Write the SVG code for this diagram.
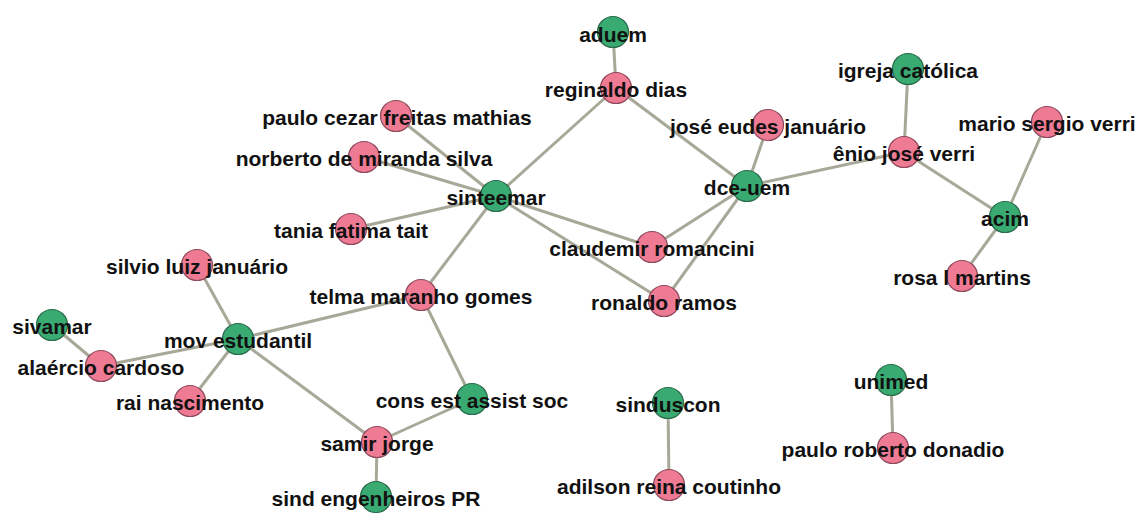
<svg xmlns="http://www.w3.org/2000/svg" width="1141" height="513" viewBox="0 0 1141 513">
<style>
.e{stroke:#a8a898;stroke-width:3;fill:none}
.p{fill:#ee7a93;stroke:#8e4a5c;stroke-width:1.2}
.g{fill:#3aaa73;stroke:#2a6b4a;stroke-width:1.2}
text{font-family:"Liberation Sans",Arial,sans-serif;font-weight:bold;font-size:21px;fill:#111;text-anchor:middle}
</style>
<rect width="1141" height="513" fill="#fff"/>
<g id="connectors">
<line class="e" x1="496" y1="196" x2="396" y2="116"/>
<line class="e" x1="496" y1="196" x2="364" y2="157"/>
<line class="e" x1="496" y1="196" x2="351" y2="229"/>
<line class="e" x1="496" y1="196" x2="616" y2="88"/>
<line class="e" x1="496" y1="196" x2="421" y2="295"/>
<line class="e" x1="496" y1="196" x2="652" y2="247"/>
<line class="e" x1="496" y1="196" x2="664" y2="301"/>
<line class="e" x1="747" y1="186" x2="652" y2="247"/>
<line class="e" x1="747" y1="186" x2="664" y2="301"/>
<line class="e" x1="747" y1="186" x2="616" y2="88"/>
<line class="e" x1="747" y1="186" x2="768" y2="125"/>
<line class="e" x1="747" y1="186" x2="904" y2="152"/>
<line class="e" x1="616" y1="88" x2="613" y2="32"/>
<line class="e" x1="904" y1="152" x2="908" y2="69"/>
<line class="e" x1="904" y1="152" x2="1005" y2="217"/>
<line class="e" x1="1005" y1="217" x2="1047" y2="122"/>
<line class="e" x1="1005" y1="217" x2="962" y2="276"/>
<line class="e" x1="421" y1="295" x2="238" y2="339"/>
<line class="e" x1="421" y1="295" x2="472" y2="399"/>
<line class="e" x1="238" y1="339" x2="197" y2="265"/>
<line class="e" x1="238" y1="339" x2="101" y2="366"/>
<line class="e" x1="238" y1="339" x2="190" y2="401"/>
<line class="e" x1="238" y1="339" x2="377" y2="442"/>
<line class="e" x1="101" y1="366" x2="52" y2="325"/>
<line class="e" x1="377" y1="442" x2="472" y2="399"/>
<line class="e" x1="377" y1="442" x2="376" y2="497"/>
<line class="e" x1="668" y1="403" x2="669" y2="485"/>
<line class="e" x1="891" y1="380" x2="893" y2="448"/>
</g>
<g id="n-aduem"><circle class="g" cx="613" cy="32" r="15.5"/><text x="613" y="42">aduem</text></g>
<g id="n-reginaldo"><circle class="p" cx="616" cy="88" r="15.5"/><text x="616" y="97">reginaldo dias</text></g>
<g id="n-paulocezar"><circle class="p" cx="396" cy="116" r="15.5"/><text x="397" y="125">paulo cezar freitas mathias</text></g>
<g id="n-norberto"><circle class="p" cx="364" cy="157" r="15.5"/><text x="364" y="166">norberto de miranda silva</text></g>
<g id="n-sinteemar"><circle class="g" cx="496" cy="196" r="15.5"/><text x="496" y="205">sinteemar</text></g>
<g id="n-tania"><circle class="p" cx="351" cy="229" r="15.5"/><text x="351" y="238">tania fatima tait</text></g>
<g id="n-joseeudes"><circle class="p" cx="768" cy="125" r="15.5"/><text x="768" y="134">josé eudes januário</text></g>
<g id="n-dceuem"><circle class="g" cx="747" cy="186" r="15.5"/><text x="747" y="195">dce-uem</text></g>
<g id="n-claudemir"><circle class="p" cx="652" cy="247" r="15.5"/><text x="652" y="256">claudemir romancini</text></g>
<g id="n-ronaldo"><circle class="p" cx="664" cy="301" r="15.5"/><text x="664" y="310">ronaldo ramos</text></g>
<g id="n-igreja"><circle class="g" cx="908" cy="69" r="15.5"/><text x="908" y="78">igreja católica</text></g>
<g id="n-enio"><circle class="p" cx="904" cy="152" r="15.5"/><text x="904" y="161">ênio josé verri</text></g>
<g id="n-mario"><circle class="p" cx="1047" cy="122" r="15.5"/><text x="1047" y="131">mario sergio verri</text></g>
<g id="n-acim"><circle class="g" cx="1005" cy="217" r="15.5"/><text x="1005" y="226">acim</text></g>
<g id="n-rosa"><circle class="p" cx="962" cy="276" r="15.5"/><text x="962" y="285">rosa l martins</text></g>
<g id="n-silvio"><circle class="p" cx="197" cy="265" r="15.5"/><text x="197" y="274">silvio luiz januário</text></g>
<g id="n-telma"><circle class="p" cx="421" cy="295" r="15.5"/><text x="421" y="304">telma maranho gomes</text></g>
<g id="n-sivamar"><circle class="g" cx="52" cy="325" r="15.5"/><text x="52" y="334">sivamar</text></g>
<g id="n-mov"><circle class="g" cx="238" cy="339" r="15.5"/><text x="238" y="348">mov estudantil</text></g>
<g id="n-alaercio"><circle class="p" cx="101" cy="366" r="15.5"/><text x="101" y="375">alaércio cardoso</text></g>
<g id="n-rai"><circle class="p" cx="190" cy="401" r="15.5"/><text x="190" y="410">rai nascimento</text></g>
<g id="n-cons"><circle class="g" cx="472" cy="399" r="15.5"/><text x="472" y="408">cons est assist soc</text></g>
<g id="n-samir"><circle class="p" cx="377" cy="442" r="15.5"/><text x="377" y="451">samir jorge</text></g>
<g id="n-sind"><circle class="g" cx="376" cy="497" r="15.5"/><text x="376" y="506">sind engenheiros PR</text></g>
<g id="n-sinduscon"><circle class="g" cx="668" cy="403" r="15.5"/><text x="668" y="412">sinduscon</text></g>
<g id="n-adilson"><circle class="p" cx="669" cy="485" r="15.5"/><text x="669" y="494">adilson reina coutinho</text></g>
<g id="n-unimed"><circle class="g" cx="891" cy="380" r="15.5"/><text x="891" y="389">unimed</text></g>
<g id="n-paulorob"><circle class="p" cx="893" cy="448" r="15.5"/><text x="893" y="457">paulo roberto donadio</text></g>
</svg>
